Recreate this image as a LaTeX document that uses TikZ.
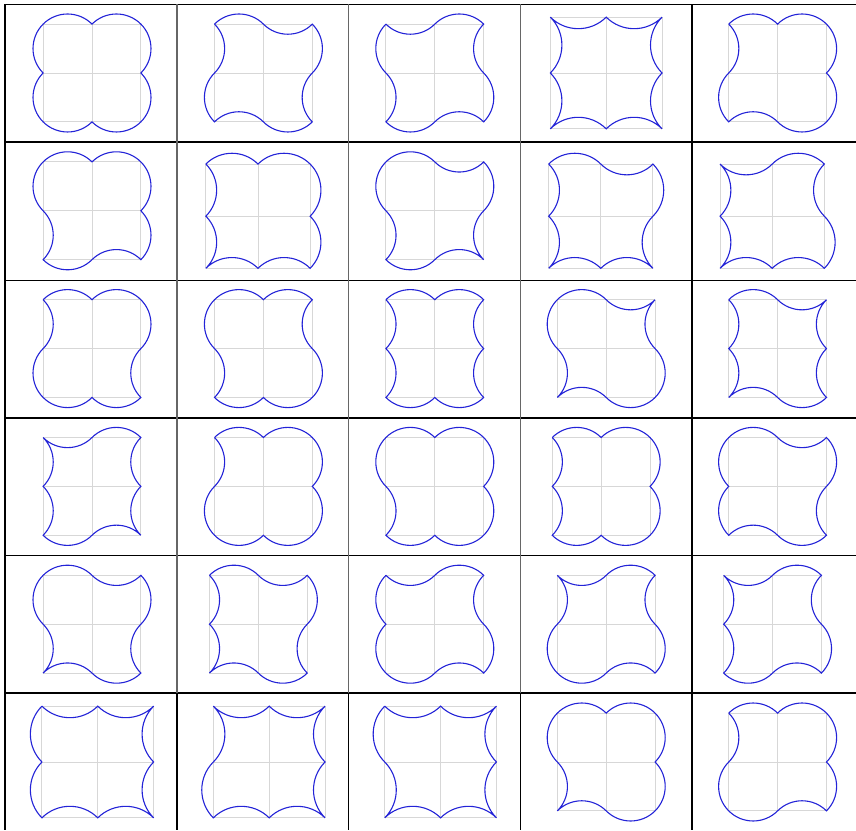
\documentclass[tikz,border=0pt]{standalone}
\usepackage{tikz}

\definecolor{curveblue}{RGB}{35,35,215}
\definecolor{gridgray}{RGB}{215,215,215}

\begin{document}
\begin{tikzpicture}[
  x=1pt, y=1pt,
  rule/.style={line width=1.6pt, black},
  sep/.style={line width=1.4pt, black!60},
  gridline/.style={line width=0.9pt, gridgray},
  curve/.style={line width=1.1pt, curveblue},
  half/.style={bend left={45*(2*#1-1)}}
]
\useasboundingbox (0,0) rectangle (856,830);

% table rules
\foreach \yy in {825.5,688,549.5,412,274.5,137}
  \draw[rule] (5,\yy) -- (856,\yy);
\foreach \xx in {5,692}
  \draw[rule] (\xx,825.5) -- (\xx,0);
\foreach \xx in {177,348.5,520.5}{
  \draw[sep] (\xx,825.5) -- (\xx,137);
  \draw[rule] (\xx,137) -- (\xx,0);
}

% tiles: col/row/TL/TR/RT/RB/BR/BL/LB/LT  (1 = bulge out, 0 = dent in)
\foreach \col/\row/\sA/\sB/\sC/\sD/\sE/\sF/\sG/\sH in {
  1/1/1/1/1/1/1/1/1/1, 2/1/1/0/1/0/1/0/1/0, 3/1/0/1/0/1/0/1/0/1,
  4/1/0/0/0/0/0/0/0/0, 5/1/1/1/1/1/1/0/1/0,
  1/2/1/1/1/1/0/1/0/1, 2/2/1/1/1/1/0/0/0/0, 3/2/1/0/1/0/0/1/0/1,
  4/2/1/0/1/0/0/0/0/0, 5/2/0/1/0/1/0/0/0/0,
  1/3/1/1/1/0/1/1/1/0, 2/3/1/1/0/1/1/1/0/1, 3/3/1/1/0/0/1/1/0/0,
  4/3/1/0/0/1/1/0/0/1, 5/3/1/0/0/0/1/0/0/0,
  1/4/0/1/0/0/0/1/0/0, 2/4/1/1/1/1/1/1/1/0, 3/4/1/1/1/1/1/1/0/1,
  4/4/1/1/1/1/1/1/0/0, 5/4/1/0/1/0/1/0/1/1,
  1/5/1/0/1/0/1/0/0/1, 2/5/1/0/1/0/1/0/0/0, 3/5/0/1/0/1/0/1/1/1,
  4/5/0/1/0/1/0/1/1/0, 5/5/0/1/0/1/0/1/0/0,
  1/6/0/0/0/0/0/0/1/1, 2/6/0/0/0/0/0/0/1/0, 3/6/0/0/0/0/0/0/0/1,
  4/6/1/1/1/1/1/0/0/1, 5/6/1/1/1/1/0/1/1/0}{
  \pgfmathsetmacro\wl{1+0.2071*max(\sG,\sH)}
  \pgfmathsetmacro\wr{1+0.2071*max(\sC,\sD)}
  \pgfmathsetmacro\wt{1+0.2071*max(\sA,\sB)}
  \pgfmathsetmacro\wb{1+0.2071*max(\sE,\sF)}
  \pgfmathsetmacro\tu{162/(\wt+\wb+0.9)}
  \pgfmathsetmacro\cx{92+171.4*(\col-1)+(\wl-\wr)/2*\tu}
  \pgfmathsetmacro\cy{757-137.8*(\row-1)+(\wb-\wt)/2*\tu}
  \begin{scope}[shift={(\cx,\cy)}, x=\tu pt, y=\tu pt]
    \draw[gridline, step=1] (-1,-1) grid (1,1);
    \draw[curve] (-1,1) to[half=\sA] (0,1) to[half=\sB] (1,1)
      to[half=\sC] (1,0) to[half=\sD] (1,-1) to[half=\sE] (0,-1)
      to[half=\sF] (-1,-1) to[half=\sG] (-1,0) to[half=\sH] (-1,1);
  \end{scope}
}
\end{tikzpicture}
\end{document}
